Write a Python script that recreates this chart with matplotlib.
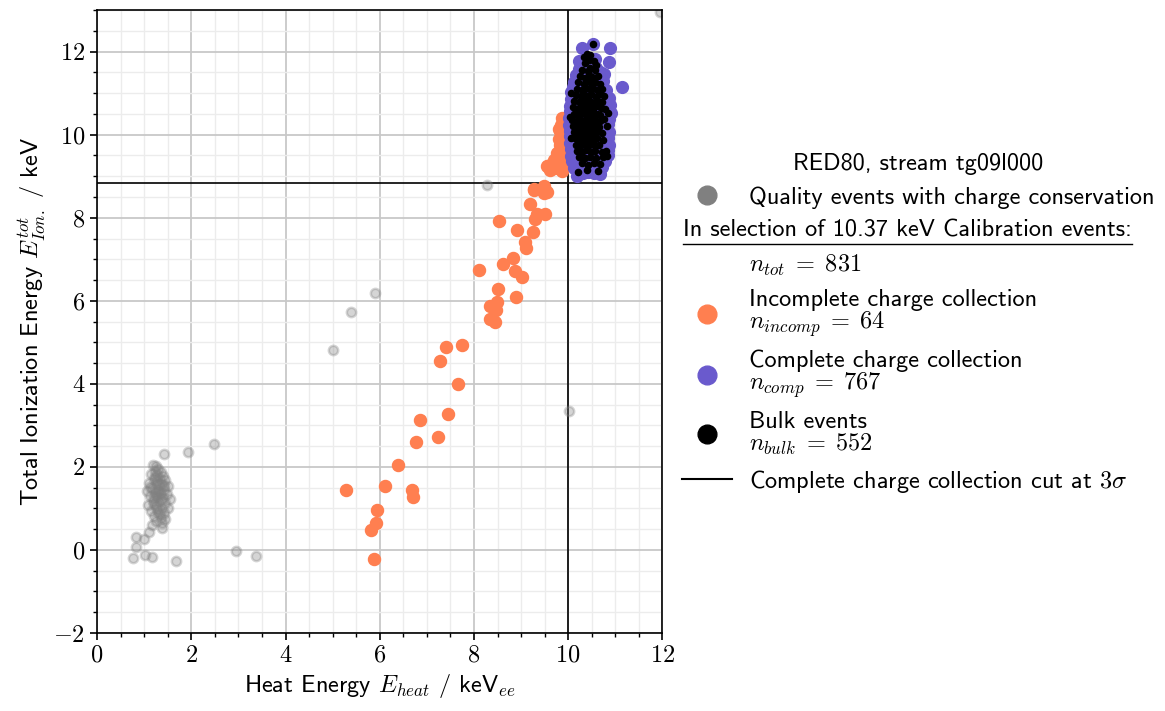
import numpy as np
import matplotlib.pyplot as plt
from matplotlib.lines import Line2D
from matplotlib.ticker import MultipleLocator, FuncFormatter

plt.rcParams['font.family'] = ['cmss10', 'DejaVu Sans']
plt.rcParams['mathtext.fontset'] = 'cm'
plt.rcParams['axes.unicode_minus'] = False
plt.rcParams['font.size'] = 17.5

## data ##
# quality events (grey) which are not in the calibration selection
qual_x = [1.18, 1.25, 1.30, 1.22, 1.35, 1.15, 1.28, 1.40, 1.20, 1.33, 1.45, 1.10, 1.25, 1.38, 1.50,
          1.17, 1.30, 1.42, 1.05, 1.22, 1.35, 1.48, 1.12, 1.28, 1.40, 1.55, 1.18, 1.32, 1.45, 1.08,
          1.25, 1.38, 1.50, 1.15, 1.30, 1.42, 1.20, 1.35, 1.45, 1.25, 1.38, 1.16, 1.37, 1.27, 1.20,
          1.33, 1.27, 1.12, 1.43, 1.23, 1.29, 1.36, 1.21, 1.31, 1.26, 1.34,
          1.11, 0.99, 0.83, 0.83, 0.77, 1.01, 1.16, 1.67, 2.94, 3.38, 1.43, 1.94, 2.48, 5.01, 5.40,
          5.91, 8.28, 10.02, 11.94]
qual_y = [2.05, 2.02, 1.95, 1.90, 1.88, 1.82, 1.80, 1.78, 1.72, 1.70, 1.68, 1.62, 1.60, 1.58, 1.55,
          1.50, 1.48, 1.45, 1.42, 1.40, 1.38, 1.35, 1.30, 1.28, 1.25, 1.22, 1.18, 1.15, 1.12, 1.08,
          1.05, 1.02, 1.00, 0.95, 0.92, 0.88, 0.82, 0.78, 0.75, 0.70, 0.65, 0.60, 0.52, 1.65, 1.25,
          1.35, 0.98, 1.52, 1.55, 1.75, 1.42, 1.21, 1.10, 1.58, 1.33, 0.86,
          0.44, 0.27, 0.32, 0.07, -0.19, -0.12, -0.16, -0.27, -0.02, -0.14, 2.31, 2.35, 2.55, 4.82, 5.73,
          6.20, 8.78, 3.35, 12.96]

# incomplete charge collection (orange)
inc_x = [9.55, 9.27, 9.48, 9.18, 9.34, 9.51, 9.30, 8.54, 8.91, 9.26, 9.09, 9.11, 8.82, 8.62, 8.11,
         8.87, 9.01, 8.50, 8.34, 8.48, 8.47, 8.89, 8.33, 8.45, 7.41, 7.74, 7.27, 7.67, 7.44, 6.86,
         7.24, 6.77, 6.38, 5.29, 6.11, 6.69, 6.71, 5.94, 5.92, 5.82, 5.87,
         9.87, 9.85, 9.83, 9.89, 9.83, 9.76, 9.69, 9.58, 9.69, 9.87, 9.90, 9.27, 9.48, 9.55,
         9.80, 9.92, 9.74, 9.62, 9.93, 9.78, 9.66, 9.90, 9.81]
inc_y = [9.24, 8.66, 8.60, 8.33, 8.10, 8.10, 7.97, 7.93, 7.71, 7.65, 7.41, 7.27, 7.04, 6.89, 6.75,
         6.71, 6.57, 6.28, 5.88, 5.96, 5.78, 6.09, 5.57, 5.50, 4.88, 4.94, 4.54, 4.00, 3.28, 3.12,
         2.73, 2.61, 2.05, 1.45, 1.55, 1.45, 1.28, 0.96, 0.64, 0.47, -0.22,
         10.40, 10.24, 10.08, 10.05, 9.76, 9.56, 9.40, 9.24, 9.20, 9.12, 9.28, 8.70, 8.76, 8.63,
         9.90, 9.60, 9.35, 9.15, 9.45, 9.20, 9.30, 9.70, 10.15]

# complete charge collection (purple)
comp_x = [10.52, 10.30, 10.89, 10.24, 10.45, 10.86, 10.38, 10.57, 11.15, 10.06, 10.91, 10.84, 10.55, 10.19,
          10.23, 10.33, 10.46, 10.58, 10.67,
          10.17, 10.31, 10.41, 10.55, 10.65, 10.77,
          10.13, 10.27, 10.37, 10.51, 10.61, 10.73,
          10.11, 10.21, 10.35, 10.47, 10.57, 10.71, 10.81,
          10.15, 10.29, 10.39, 10.53, 10.63, 10.77,
          10.05, 10.18, 10.28, 10.42, 10.52, 10.66, 10.76, 10.86,
          10.04, 10.15, 10.29, 10.39, 10.53, 10.63, 10.77, 10.88,
          10.03, 10.16, 10.26, 10.40, 10.50, 10.64, 10.74,
          10.02, 10.13, 10.27, 10.37, 10.51, 10.61, 10.75, 10.87,
          10.02, 10.15, 10.25, 10.39, 10.49, 10.63, 10.73, 10.84,
          10.03, 10.14, 10.28, 10.38, 10.52, 10.62, 10.76, 10.86,
          10.03, 10.16, 10.26, 10.40, 10.50, 10.64, 10.74, 10.84,
          10.04, 10.15, 10.29, 10.39, 10.53, 10.63, 10.77, 10.87,
          10.05, 10.18, 10.28, 10.42, 10.52, 10.66, 10.76, 10.85,
          10.06, 10.17, 10.31, 10.41, 10.55, 10.65, 10.77,
          10.08, 10.21, 10.31, 10.45, 10.55, 10.69, 10.79,
          10.12, 10.23, 10.37, 10.47, 10.61, 10.71,
          10.31, 10.43, 10.67]
comp_y = [12.19, 12.09, 12.10, 11.77, 11.85, 11.75, 11.68, 11.82, 11.16, 11.04, 10.52, 9.52, 9.08, 9.00,
          11.58, 11.63, 11.55, 11.61, 11.52,
          11.43, 11.47, 11.40, 11.44, 11.38, 11.46,
          11.28, 11.33, 11.25, 11.31, 11.24, 11.30,
          11.14, 11.18, 11.12, 11.17, 11.10, 11.15, 11.08,
          10.98, 11.03, 10.96, 11.01, 10.94, 10.99,
          10.86, 10.82, 10.88, 10.84, 10.80, 10.87, 10.83, 10.88,
          10.68, 10.73, 10.66, 10.71, 10.67, 10.74, 10.69, 10.72,
          10.57, 10.52, 10.58, 10.55, 10.51, 10.57, 10.53,
          10.41, 10.37, 10.43, 10.39, 10.42, 10.36, 10.44, 10.38,
          10.24, 10.27, 10.21, 10.26, 10.22, 10.28, 10.23, 10.26,
          10.09, 10.13, 10.07, 10.12, 10.08, 10.14, 10.10, 10.06,
          9.96, 9.92, 9.98, 9.94, 9.97, 9.91, 9.97, 9.93,
          9.79, 9.83, 9.77, 9.82, 9.78, 9.84, 9.80, 9.76,
          9.66, 9.62, 9.68, 9.64, 9.67, 9.61, 9.66, 9.63,
          9.49, 9.53, 9.47, 9.51, 9.48, 9.54, 9.46,
          9.36, 9.32, 9.38, 9.34, 9.37, 9.31, 9.36,
          9.21, 9.24, 9.18, 9.22, 9.19, 9.23,
          9.07, 9.10, 9.05]

# bulk events (black)
bulk_x = [10.52, 10.40, 10.33, 10.46, 10.55, 10.59, 10.36, 10.44,
          10.29, 10.41, 10.47, 10.57,
          10.25, 10.35, 10.45, 10.51, 10.63,
          10.21, 10.33, 10.39, 10.49, 10.57, 10.67,
          10.19, 10.29, 10.37, 10.47, 10.53, 10.61, 10.71,
          10.17, 10.27, 10.33, 10.43, 10.49, 10.59, 10.65, 10.75,
          10.13, 10.23, 10.31, 10.37, 10.47, 10.53, 10.63, 10.71,
          10.11, 10.21, 10.27, 10.37, 10.43, 10.53, 10.59, 10.69, 10.79,
          10.13, 10.19, 10.29, 10.35, 10.45, 10.51, 10.61, 10.67,
          10.09, 10.19, 10.25, 10.35, 10.41, 10.51, 10.57, 10.67, 10.77,
          10.11, 10.17, 10.27, 10.33, 10.43, 10.49, 10.59, 10.65,
          10.13, 10.21, 10.27, 10.37, 10.43, 10.53, 10.59, 10.71,
          10.15, 10.23, 10.29, 10.39, 10.45, 10.55, 10.61, 10.73,
          10.17, 10.25, 10.33, 10.41, 10.49, 10.57, 10.65,
          10.19, 10.29, 10.37, 10.49, 10.57, 10.71, 10.81,
          10.23, 10.35, 10.47, 10.59, 10.73, 10.83,
          10.29, 10.43, 10.55, 10.67,
          10.39, 10.63, 10.21,
          10.06, 10.04, 10.05, 10.83, 10.85, 10.79]
bulk_y = [12.19, 11.95, 11.88, 11.92, 11.77, 11.69, 11.73, 11.80,
          11.57, 11.53, 11.60, 11.55,
          11.41, 11.37, 11.43, 11.39, 11.42,
          11.26, 11.23, 11.29, 11.24, 11.28, 11.22,
          11.11, 11.08, 11.13, 11.09, 11.12, 11.07, 11.11,
          10.96, 10.93, 10.98, 10.94, 10.97, 10.92, 10.97, 10.94,
          10.81, 10.78, 10.83, 10.79, 10.82, 10.77, 10.81, 10.79,
          10.66, 10.63, 10.68, 10.64, 10.67, 10.62, 10.68, 10.65, 10.61,
          10.51, 10.48, 10.53, 10.49, 10.52, 10.47, 10.51, 10.48,
          10.36, 10.33, 10.38, 10.34, 10.37, 10.32, 10.36, 10.33, 10.37,
          10.21, 10.18, 10.23, 10.19, 10.22, 10.17, 10.21, 10.18,
          10.06, 10.03, 10.08, 10.04, 10.07, 10.02, 10.06, 10.03,
          9.91, 9.88, 9.93, 9.89, 9.92, 9.87, 9.91, 9.88,
          9.76, 9.73, 9.78, 9.74, 9.77, 9.72, 9.76,
          9.61, 9.58, 9.63, 9.59, 9.62, 9.58, 9.61,
          9.46, 9.43, 9.47, 9.44, 9.46, 9.48,
          9.31, 9.28, 9.32, 9.29,
          9.16, 9.13, 9.10,
          11.00, 10.42, 9.92, 10.21, 10.52, 9.51]

cut_heat = 10.0
cut_ion = 8.84
n_tot, n_incomp, n_comp, n_bulk = 831, 64, 767, 552

## figure ##
fig = plt.figure(figsize=(11.65, 7.11), dpi=100)
ax = fig.add_axes([0.0833, 0.1097, 0.4853, 0.876])

# all events with charge conservation, selected ones included
all_x = qual_x + inc_x + comp_x
all_y = qual_y + inc_y + comp_y
ax.scatter(all_x, all_y, s=45, c='grey', alpha=0.33, edgecolors='grey', linewidths=1.8, zorder=2)
ax.scatter(inc_x, inc_y, s=75, c='coral', zorder=3)
ax.scatter(comp_x, comp_y, s=72, c='slateblue', zorder=4)
ax.scatter(bulk_x, bulk_y, s=20, c='k', zorder=5)

ax.axvline(cut_heat, color='k', lw=1.2, zorder=1.5)
ax.axhline(cut_ion, color='k', lw=1.2, zorder=1.5)

ax.set_xlim(0, 12)
ax.set_ylim(-2, 13)
ax.xaxis.set_major_locator(MultipleLocator(2))
ax.yaxis.set_major_locator(MultipleLocator(2))
ax.xaxis.set_minor_locator(MultipleLocator(0.5))
ax.yaxis.set_minor_locator(MultipleLocator(0.5))
fmt = FuncFormatter(lambda v, p: '$%g$' % v)
ax.xaxis.set_major_formatter(fmt)
ax.yaxis.set_major_formatter(fmt)
ax.tick_params(which='major', direction='out', length=5, width=1.2, labelsize=17.5)
ax.tick_params(which='minor', direction='out', length=3, width=1)
ax.grid(which='major', color='#c8c8c8', lw=1.3, zorder=0)
ax.grid(which='minor', color='#ececec', lw=1.0, zorder=0)
ax.set_axisbelow(True)
for sp in ax.spines.values():
    sp.set_linewidth(1.2)

ax.set_xlabel(r'Heat Energy $E_{heat}$ / keV$_{ee}$', fontsize=17.5)
ax.set_ylabel(r'Total Ionization Energy $E_{Ion.}^{tot}$ / keV', fontsize=17.5)

## legend ##
handles = [Line2D([], [], ls='none', marker='o', ms=13.5, color='grey'),
           Line2D([], [], ls='none'),
           Line2D([], [], ls='none'),
           Line2D([], [], ls='none', marker='o', ms=13.5, color='coral'),
           Line2D([], [], ls='none', marker='o', ms=13.5, color='slateblue'),
           Line2D([], [], ls='none', marker='o', ms=13.5, color='k'),
           Line2D([], [], color='k', lw=1.5)]
labels = ['Quality events with charge conservation',
          'Mg',
          r'$n_{tot}\;=\;%d$' % n_tot,
          'Incomplete charge collection\n' + r'$n_{incomp}\;=\;%d$' % n_incomp,
          'Complete charge collection\n' + r'$n_{comp}\;=\;%d$' % n_comp,
          'Bulk events\n' + r'$n_{bulk}\;=\;%d$' % n_bulk,
          r'Complete charge collection cut at $3\sigma$']
leg = fig.legend(handles, labels, loc='upper left', bbox_to_anchor=(0.567, 0.815),
                 frameon=False, title='RED80, stream tg09l000', fontsize=17.5,
                 title_fontsize=17.5, handlelength=2.05, handletextpad=0.7, labelspacing=0.45)
for t in leg.get_texts()[3:6]:
    t.set_linespacing(0.92)
leg.get_texts()[1].set_alpha(0)  # place holder row for the header

fig.canvas.draw()
r = fig.canvas.get_renderer()
inv = fig.transFigure.inverted()
blank = leg.get_texts()[1].get_window_extent(r)
cut_h = leg.legend_handles[6].get_window_extent(r)
x0, yc = inv.transform((cut_h.x0 + 1, (blank.y0 + blank.y1) / 2))
head = fig.text(x0, yc, 'In selection of 10.37 keV Calibration events:', fontsize=17.5,
                ha='left', va='center')
fig.canvas.draw()
hb = head.get_window_extent(r)
(ux0, uy), (ux1, _) = inv.transform([(hb.x0, hb.y0 - 2), (hb.x1, hb.y0 - 2)])
fig.add_artist(Line2D([ux0, ux1], [uy, uy], color='k', lw=1.0, transform=fig.transFigure))

fig.savefig('out.png', dpi=100)
